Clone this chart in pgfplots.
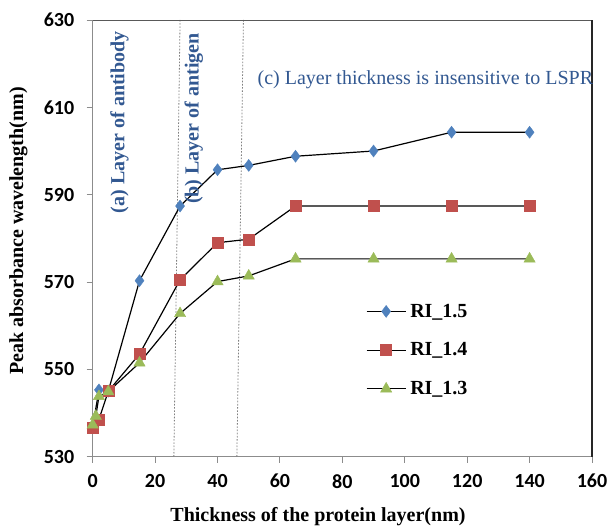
\documentclass[border=0pt]{standalone}
\usepackage{fontspec}
\setmainfont{Liberation Serif}
\newfontfamily\calib{Carlito}
\usepackage{pgfplots}
\pgfplotsset{compat=1.18}

\definecolor{riblue}{HTML}{4F81BD}
\definecolor{rired}{HTML}{C0504D}
\definecolor{rigreen}{HTML}{9BBB59}
\definecolor{note}{RGB}{50,88,145}
\definecolor{axgray}{HTML}{8C8C8C}

\begin{document}
\begin{tikzpicture}
\begin{axis}[
  scale only axis,
  width=499.3pt, height=436.7pt,
  at={(0pt,0pt)}, anchor=south west,
  xmin=0, xmax=160, ymin=530, ymax=630,
  xtick={0,20,...,160}, ytick={530,550,...,630},
  axis x line*=bottom, axis y line*=left,
  axis line style={draw=axgray, line width=0.9pt},
  tick align=outside, major tick length=6pt,
  tick style={draw=axgray, line width=0.9pt},
  /pgf/number format/assume math mode=true,
  ticklabel style={font=\calib\bfseries\fontsize{20}{24}\selectfont, text=black},
  xticklabel style={yshift=-8pt},
  yticklabel style={xshift=-9pt},
  clip=false,
  every axis plot/.append style={black, line width=1.2pt},
  legend style={draw=none, fill=none, inner sep=0pt, outer sep=0pt,
    at={(axis cs:87.6,554.4)}, anchor=west,
    font=\bfseries\fontsize{20}{24}\selectfont,
    row sep=24pt, column sep=4pt,
    nodes={inner sep=0pt}},
  legend cell align=left,
  legend image code/.code={
    \draw[mark repeat=2, mark phase=2, #1]
      plot coordinates {(0pt,0pt) (19.5pt,0pt) (39pt,0pt)};},
]
% boundaries between the antibody, antigen and saturated regimes
\draw[gray, line width=0.8pt, dash pattern=on 1.6pt off 1.6pt]
  (axis cs:26.0,530) -- (axis cs:28.0,630);
\draw[gray, line width=0.8pt, dash pattern=on 1.6pt off 1.6pt]
  (axis cs:46.2,530) -- (axis cs:48.3,630);
% upper and right frame of the plot area
\draw[draw=gray!70!black, line width=0.9pt] (rel axis cs:0,1) -- (rel axis cs:1,1);
\draw[draw=black!85, line width=1.1pt] (rel axis cs:1,0) -- (rel axis cs:1,1);

\addplot[mark=diamond*, mark size=6pt,
  mark options={fill=riblue, draw=riblue, line width=0.4pt}]
  coordinates {(0,536.8) (2,545.3) (5,545.0) (15,570.3) (28,587.4) (40,595.7)
    (50,596.7) (65,598.8) (90,600.0) (115,604.3) (140,604.3)};
\addlegendentry{RI\_1.5}
\addplot[mark=square*, mark size=5.5pt,
  mark options={fill=rired, draw=rired, line width=0.4pt}]
  coordinates {(0,536.7) (2,538.5) (5,545.0) (15,553.5) (28,570.5) (40,579.0)
    (50,579.8) (65,587.4) (90,587.4) (115,587.4) (140,587.4)};
\addlegendentry{RI\_1.4}
\addplot[mark=triangle*, mark size=6.5pt,
  mark options={fill=rigreen, draw=rigreen, line width=0.4pt}]
  coordinates {(0,537.3) (1,539.3) (2,543.8) (5,544.9) (15,551.5) (28,562.8)
    (40,570.1) (50,571.4) (65,575.3) (90,575.3) (115,575.3) (140,575.3)};
\addlegendentry{RI\_1.3}

\node[rotate=90, inner sep=0pt, text=note, font=\bfseries\fontsize{20}{24}\selectfont]
  at (axis cs:8.6,606.6) {(a) Layer of antibody};
\node[rotate=90, inner sep=0pt, text=note, font=\bfseries\fontsize{20}{24}\selectfont]
  at (axis cs:32.4,607.4) {(b) Layer of antigen};
\node[anchor=west, inner sep=0pt, text=note, font=\fontsize{20}{24}\selectfont]
  at (axis cs:52.8,616.3) {(c) Layer thickness is insensitive to LSPR};
\end{axis}
\node[rotate=90, inner sep=0pt, font=\bfseries\fontsize{20}{24}\selectfont]
  at (-74.4pt,225.7pt) {Peak absorbance wavelength(nm)};
\node[inner sep=0pt, font=\bfseries\fontsize{20}{24}\selectfont]
  at (225.3pt,-60.3pt) {Thickness of the protein layer(nm)};
\pgfresetboundingbox
\path[use as bounding box] (-92.7pt,-69.3pt) rectangle (514.3pt,456.7pt);
\end{tikzpicture}
\end{document}
